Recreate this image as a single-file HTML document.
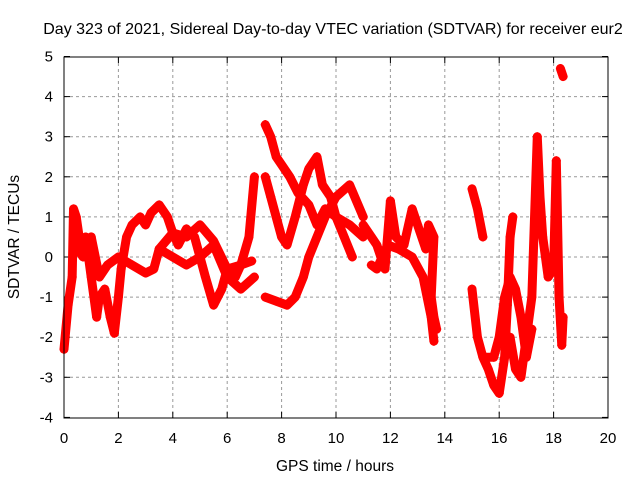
<!DOCTYPE html>
<html><head><meta charset="utf-8"><style>
body{margin:0;background:#fff}
svg{display:block;font-family:"Liberation Sans",sans-serif}
</style></head><body>
<svg id="c" width="640" height="480" xmlns="http://www.w3.org/2000/svg">
<text x="333" y="34" font-size="16" text-anchor="middle">Day 323 of 2021, Sidereal Day-to-day VTEC variation (SDTVAR) for receiver eur2</text>
<text x="335" y="471" font-size="15.5" text-anchor="middle">GPS time / hours</text>
<text transform="translate(19,237) rotate(-90)" font-size="15.5" text-anchor="middle">SDTVAR / TECUs</text>
<g id="grid"></g><g id="ticks"></g><g id="marks"></g>
<rect x="64" y="57" width="544" height="361" fill="none" stroke="#000"/>
</svg>
<script>
const xTicks=[0,2,4,6,8,10,12,14,16,18,20];
const yTicks=[-4,-3,-2,-1,0,1,2,3,4,5];
const trace1=[[0,-2.3],[0.15,-1.2],[0.3,-0.5],[0.35,1.2],[0.45,1.0],[0.6,0.3],[0.8,0.5],[1.0,-0.5],[1.2,-1.5],[1.3,-1.0],[1.5,-0.8],[1.7,-1.5],[1.85,-1.9],[2.0,-1.0],[2.1,-0.3],[2.3,0.5],[2.5,0.8],[2.8,1.0],[3.0,0.8],[3.2,1.1],[3.5,1.3],[3.8,1.0],[4.0,0.6],[4.2,0.3],[4.5,0.7],[4.8,0.5],[5.0,0.0],[5.2,-0.5],[5.5,-1.2],[5.8,-0.8],[6.0,-0.3],[6.3,-0.5],[6.5,-0.2],[6.8,0.5],[7.0,2.0]];
const trace2=[[0.4,0.3],[0.7,0.0],[1.0,0.5],[1.3,-0.5],[1.6,-0.2],[2.0,0.0],[2.5,-0.2],[3.0,-0.4],[3.3,-0.3],[3.5,0.2],[4.0,0.0],[4.5,-0.2],[5.0,0.0],[5.5,0.3],[6.0,-0.5],[6.5,-0.8],[7.0,-0.5]];
const trace3=[[3.5,0.2],[4.0,0.6],[4.5,0.5],[5.0,0.8],[5.5,0.4],[6.0,-0.3],[6.5,-0.2],[6.9,-0.1]];
const trace4=[[7.4,3.3],[7.6,3.0],[7.8,2.5],[8.0,2.3],[8.3,2.0],[8.6,1.6],[9.0,1.3],[9.3,0.8],[9.6,1.2],[10.0,1.0],[10.5,0.8],[11.0,0.5]];
const trace5=[[7.4,-1.0],[7.8,-1.1],[8.2,-1.2],[8.5,-1.0],[8.8,-0.5],[9.0,0.0],[9.3,0.5],[9.6,1.0],[10.0,1.5],[10.5,1.8],[11.0,1.0]];
const trace6=[[7.4,2.0],[7.6,1.5],[7.8,1.0],[8.0,0.5],[8.2,0.3],[8.5,1.0],[8.8,1.8],[9.0,2.2],[9.3,2.5],[9.5,1.8],[9.8,1.5],[10.0,1.0],[10.3,0.5],[10.6,0.0]];
const trace7=[[11.0,0.8],[11.3,0.5],[11.5,0.3],[11.8,-0.3],[12.0,1.4],[12.2,0.5],[12.5,0.3],[12.8,1.2],[13.0,0.8],[13.3,0.2],[13.4,0.8],[13.6,0.5],[13.5,-1.0],[13.6,-1.5],[13.7,-1.8]];
const trace8=[[11.3,-0.2],[11.5,-0.3],[11.9,0.3],[12.3,0.2],[12.8,0.0],[13.2,-0.5],[13.5,-1.5],[13.6,-2.1]];
const trace9=[[15.0,1.7],[15.2,1.2],[15.4,0.5]];
const trace10=[[15.0,-0.8],[15.2,-2.0],[15.4,-2.5],[15.6,-2.8],[15.8,-3.2],[16.0,-3.4],[16.2,-2.5],[16.3,-1.2],[16.4,0.5],[16.5,1.0]];
const trace11=[[15.5,-2.5],[15.8,-2.5],[16.0,-2.0],[16.2,-1.0],[16.4,-0.5],[16.6,-0.8],[16.8,-1.5],[17.0,-2.5],[17.2,-1.8]];
const trace12=[[16.4,-2.0],[16.6,-2.8],[16.8,-3.0],[17.0,-2.0],[17.2,-1.0],[17.4,3.0],[17.5,1.5],[17.6,0.5],[17.7,0.0],[17.8,-0.5],[18.0,-0.3],[18.1,2.4],[18.2,-1.0],[18.3,-2.2],[18.35,-1.5]];
const trace13=[[18.25,4.7],[18.35,4.5]];
const traces=[trace1,trace2,trace3,trace4,trace5,trace6,trace7,trace8,trace9,trace10,trace11,trace12,trace13];
const NS='http://www.w3.org/2000/svg';
const X=t=>64+t*27.2, Y=v=>257-v*40.1;
function mk(tag,attrs,parent){const e=document.createElementNS(NS,tag);for(const k in attrs)e.setAttribute(k,attrs[k]);parent.appendChild(e);return e;}
const grid=document.getElementById('grid'),ticks=document.getElementById('ticks'),marks=document.getElementById('marks');
xTicks.forEach(t=>{const x=X(t);
 if(t>0&&t<20){const g=mk('line',{x1:x,x2:x,y1:57,y2:418,stroke:'#999','stroke-dasharray':'3,3'},grid);}
 mk('line',{x1:x,x2:x,y1:418,y2:412,stroke:'#000'},ticks);mk('line',{x1:x,x2:x,y1:57,y2:63,stroke:'#000'},ticks);
 const l=mk('text',{x:x,y:443,'font-size':15,'text-anchor':'middle'},ticks);l.textContent=t;});
yTicks.forEach(v=>{const y=Y(v);
 if(v>-4&&v<5){const g=mk('line',{x1:64,x2:608,y1:y,y2:y,stroke:'#999','stroke-dasharray':'3,3'},grid);}
 mk('line',{x1:64,x2:70,y1:y,y2:y,stroke:'#000'},ticks);mk('line',{x1:602,x2:608,y1:y,y2:y,stroke:'#000'},ticks);
 const l=mk('text',{x:53,y:y+5,'font-size':15,'text-anchor':'end'},ticks);l.textContent=v;});
traces.forEach(tr=>{
 const p=mk('polyline',{points:tr.map(d=>X(d[0])+','+Y(d[1])).join(' '),fill:'none',stroke:'#f00','stroke-width':9,'stroke-linejoin':'round','stroke-linecap':'round'},marks);
 
 tr.forEach(d=>{const x=X(d[0]),y=Y(d[1]);
  const m=mk('path',{d:`M${x-4.5},${y}H${x+4.5}M${x},${y-4.5}V${y+4.5}`,stroke:'#f00','stroke-width':1.5},marks);
  });
});
</script>
</body></html>
